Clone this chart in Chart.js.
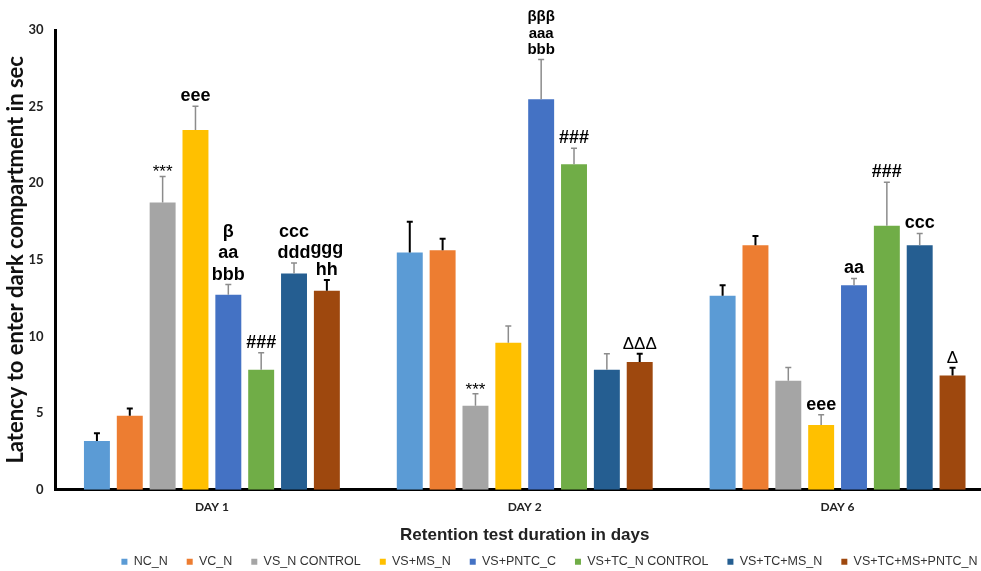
<!DOCTYPE html>
<html>
<head>
<meta charset="utf-8">
<script src="https://cdn.jsdelivr.net/npm/chart.js@4.4.1/dist/chart.umd.min.js"></script>
<style>
  html, body { margin: 0; padding: 0; background: #fff; overflow: hidden; }
  #quadro { width: 981px; height: 571px; overflow: hidden; }
</style>
</head>
<body>
<div id="quadro"><canvas id="graficoLatencia" width="1100" height="571"></canvas></div>
<script>
// ========== DADOS ==========
const dias = ['DAY 1', 'DAY 2', 'DAY 6'];
const grupos = ['NC_N', 'VC_N', 'VS_N CONTROL', 'VS+MS_N', 'VS+PNTC_C', 'VS+TC_N CONTROL', 'VS+TC+MS_N', 'VS+TC+MS+PNTC_N'];
const cores = ['#5B9BD5', '#ED7D31', '#A5A5A5', '#FFC000', '#4472C4', '#70AD47', '#255E91', '#9E480E'];

// media (s) por grupo: DAY 1, DAY 2, DAY 6
const ncN = [3.18, 15.48, 12.65];
const vcN = [4.83, 15.63, 15.96];
const vsN = [18.74, 5.48, 7.11];
const vsMs = [23.48, 9.59, 4.22];
const vsPntc = [12.72, 25.48, 13.35];
const vsTc = [7.83, 21.24, 17.22];
const vsTcMs = [14.11, 7.83, 15.96];
const vsTcMsPntc = [12.98, 8.33, 7.46];

// erro padrao
const ncNErro = [0.50, 2.00, 0.70];
const vcNErro = [0.47, 0.74, 0.59];
const vsNErro = [1.70, 0.78, 0.87];
const vsMsErro = [1.55, 1.09, 0.67];
const vsPntcErro = [0.67, 2.60, 0.44];
const vsTcErro = [1.10, 1.05, 2.85];
const vsTcMsErro = [0.68, 1.04, 0.76];
const vsTcMsPntcErro = [0.70, 0.54, 0.50];

// marcas de significancia
const ncNSig = ['', '', ''];
const vcNSig = ['', '', ''];
const vsNSig = ['***', '***', ''];
const vsMsSig = ['eee', '', 'eee'];
const vsPntcSig = ['β\naa\nbbb', 'βββ\naaa\nbbb', 'aa'];
const vsTcSig = ['###', '###', '###'];
const vsTcMsSig = ['ccc\nddd', '', 'ccc'];
const vsTcMsPntcSig = ['ggg\nhh', 'ΔΔΔ', 'Δ'];

const medias = [ncN, vcN, vsN, vsMs, vsPntc, vsTc, vsTcMs, vsTcMsPntc];
const erros = [ncNErro, vcNErro, vsNErro, vsMsErro, vsPntcErro, vsTcErro, vsTcMsErro, vsTcMsPntcErro];
const sigs = [ncNSig, vcNSig, vsNSig, vsMsSig, vsPntcSig, vsTcSig, vsTcMsSig, vsTcMsPntcSig];
const erroPreto = [true, true, false, false, false, false, false, true];

// ========== PLUGINS ==========
const fonteSig = (txt, compacto) => {
  if (/[*Δ]/.test(txt)) return { font: '17px "Liberation Sans", Arial, sans-serif', alt: 21 };
  if (compacto) return { font: 'bold 15px "Liberation Sans", Arial, sans-serif', alt: 16.5 };
  return { font: 'bold 18px "Liberation Sans", Arial, sans-serif', alt: 21.5 };
};

const barrasErro = {
  id: 'barrasErro',
  afterDatasetsDraw(chart) {
    const { ctx } = chart;
    const y = chart.scales.y;
    chart.data.datasets.forEach((ds, i) => {
      chart.getDatasetMeta(i).data.forEach((bar, j) => {
        const topo = y.getPixelForValue(ds.data[j] + ds.erro[j]);
        ctx.save();
        ctx.strokeStyle = ds.corErro;
        ctx.lineWidth = ds.corErro === '#000' ? 2 : 1.5;
        ctx.beginPath();
        ctx.moveTo(bar.x, bar.y);
        ctx.lineTo(bar.x, topo);
        ctx.moveTo(bar.x - 3, topo);
        ctx.lineTo(bar.x + 3, topo);
        ctx.stroke();

        const sig = ds.sig[j];
        if (sig) {
          const linhas = sig.split('\n');
          const f = fonteSig(sig, linhas.length > 2 && ds.data[j] > 25);
          const base = /\*/.test(sig) ? topo + 1 : topo - 5;
          ctx.font = f.font;
          ctx.fillStyle = '#000';
          ctx.textAlign = 'center';
          ctx.textBaseline = 'alphabetic';
          linhas.forEach((l, k) => {
            ctx.fillText(l, bar.x, base - (linhas.length - 1 - k) * f.alt);
          });
        }
        ctx.restore();
      });
    });
  }
};

// legenda centrada sob o grafico inteiro
const deslocaLegenda = {
  id: 'deslocaLegenda',
  afterLayout(chart) {
    chart.legend.left += 52;
    chart.legend.right += 52;
  }
};

// ========== GRAFICO ==========
new Chart(document.getElementById('graficoLatencia'), {
  type: 'bar',
  data: {
    labels: dias,
    datasets: grupos.map((g, i) => ({
      label: g,
      data: medias[i],
      erro: erros[i],
      sig: sigs[i],
      corErro: erroPreto[i] ? '#000' : '#8c8c8c',
      backgroundColor: cores[i],
      categoryPercentage: 0.84,
      barPercentage: 0.79
    }))
  },
  options: {
    responsive: false,
    animation: false,
    layout: { padding: { left: 1, right: 106, top: 30, bottom: -7 } },
    plugins: {
      tooltip: { enabled: false },
      legend: {
        position: 'bottom',
        labels: {
          color: '#333',
          font: { family: '"Liberation Sans", Arial, sans-serif', size: 12.5 },
          boxWidth: 6,
          boxHeight: 6,
          padding: 19
        }
      }
    },
    scales: {
      x: {
        grid: { display: false, drawTicks: false },
        border: { color: '#000', width: 3 },
        ticks: { color: '#222', padding: 10, font: { family: 'Lato, sans-serif', weight: 'bold', size: 12 } },
        title: {
          display: true,
          text: 'Retention test duration in days',
          color: '#222',
          padding: { top: 1, bottom: -9 },
          font: { family: '"Liberation Sans", Arial, sans-serif', weight: 'bold', size: 17 }
        }
      },
      y: {
        min: 0,
        max: 30,
        grid: { display: false, drawTicks: false },
        border: { color: '#000', width: 3 },
        ticks: { stepSize: 5, color: '#222', padding: 12, font: { family: 'Lato, sans-serif', weight: 'bold', size: 13 } },
        title: {
          display: true,
          text: 'Latency to enter dark compartment in sec',
          color: '#111',
          padding: { top: 2, bottom: -13 },
          font: { family: 'Lato, sans-serif', weight: 'bold', size: 22 }
        }
      }
    }
  },
  plugins: [barrasErro, deslocaLegenda]
});
</script>
</body>
</html>
